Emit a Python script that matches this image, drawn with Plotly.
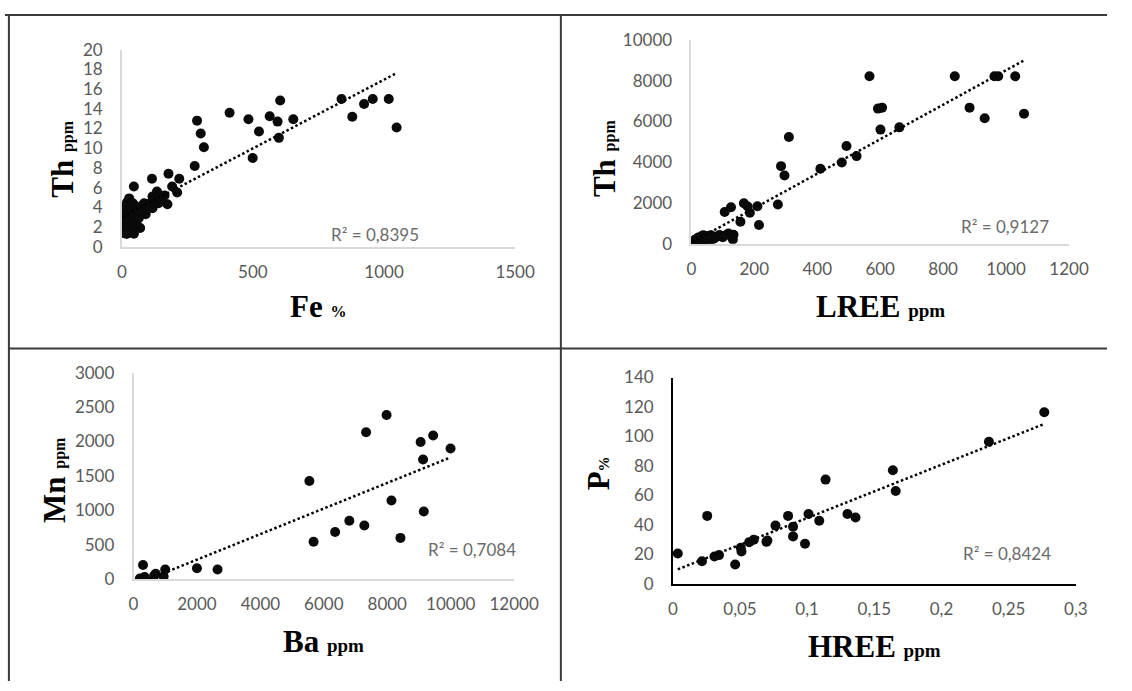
import numpy as np
import plotly.graph_objects as go

W, H = 1132, 691

# ---- Fe (%) vs Th (ppm) ----
fe = [1018, 1048, 957, 924, 879, 838, 604, 654, 594, 599, 564, 523, 483, 499, 411,
      287, 301, 313, 278, 219, 178, 192, 211, 174, 163, 134, 115, 117, 117, 144,
      91, 85, 46, 110, 125, 140, 150, 95, 105,
      3, 5, 6, 8, 9, 10, 12, 13, 15, 16, 18, 19, 20, 22, 24, 25, 27, 28, 30, 32,
      34, 35, 38, 40, 42, 45, 48, 50, 53, 55, 58, 60, 65, 70, 75, 80, 20, 46]
th_fe = [15.0, 12.1, 15.0, 14.5, 13.2, 15.0, 14.85, 12.95, 12.7, 11.05, 13.25, 11.7, 12.95, 9.0, 13.6,
         12.8, 11.5, 10.1, 8.2, 6.9, 7.4, 6.1, 5.5, 4.3, 5.2, 5.6, 6.9, 5.1, 3.9, 4.6,
         3.3, 4.4, 6.1, 4.4, 4.8, 4.4, 4.9, 4.3, 4.1,
         1.4, 2.2, 3.0, 1.6, 2.6, 3.4, 2.0, 4.0, 2.8, 1.3, 3.6, 2.4, 4.5, 3.1, 1.9, 3.9, 2.7, 4.9, 3.3, 2.1,
         4.2, 1.5, 3.7, 2.9, 4.4, 1.4, 3.2, 2.5, 4.1, 3.5, 2.2, 3.8, 2.9, 1.9, 4.1, 3.5, 1.3, 1.3]

# ---- LREE (ppm) vs Th (ppm) ----
lree = [566, 837, 963, 975, 1029, 884, 932, 1057, 593, 606, 601, 661, 493, 525, 478, 410,
        310, 285, 296, 275, 210, 215, 167, 179, 186, 156, 106, 126, 112, 134, 132,
        3, 5, 8, 10, 12, 15, 18, 20, 22, 25, 28, 30, 32, 35, 38, 40, 45, 48, 50, 55,
        60, 65, 70, 75, 85, 90, 100, 118, 62]
th_lree = [8222, 8222, 8222, 8222, 8222, 6683, 6159, 6381, 6635, 6683, 5603, 5714, 4794, 4302, 3984, 3683,
           5238, 3810, 3349, 1921, 1841, 921, 1984, 1825, 1524, 1079, 1556, 1794, 444, 444, 206,
           50, 120, 30, 180, 80, 220, 60, 150, 300, 100, 250, 40, 350, 180, 420, 90, 380, 250, 150, 320,
           200, 280, 230, 300, 380, 430, 320, 500, 420]

# ---- Ba (ppm) vs Mn (ppm) ----
ba = [7978, 7332, 9447, 9052, 9995, 9129, 5545, 8132, 9151, 6805, 7277, 6356, 8416, 5677,
      300, 200, 350, 650, 700, 950, 1000, 2000, 2650]
mn = [2385, 2135, 2088, 1993, 1899, 1738, 1427, 1143, 983, 850, 779, 685, 600, 543,
      205, 10, 30, 50, 80, 40, 140, 160, 140]

# ---- HREE (ppm) vs P (%) ----
hree = [0.2765, 0.2353, 0.1638, 0.1659, 0.1137, 0.0256, 0.0037, 0.0217, 0.031, 0.0344, 0.0464,
        0.0506, 0.0511, 0.0569, 0.0603, 0.0697, 0.0704, 0.0764, 0.0858, 0.0895, 0.0895, 0.0984,
        0.101, 0.109, 0.13, 0.136]
p_pct = [116.5, 96.5, 77.1, 63.1, 70.8, 46.2, 20.7, 15.4, 18.7, 19.6, 13.2,
         24.6, 22.0, 28.4, 30.1, 28.6, 29.5, 39.6, 46.2, 38.9, 32.3, 27.3,
         47.5, 42.9, 47.5, 45.1]

r2_labels = ["R² = 0,8395", "R² = 0,9127", "R² = 0,7084", "R² = 0,8424"]
hree_ticks = [0, 0.05, 0.1, 0.15, 0.2, 0.25, 0.3]
hree_ticktext = ["0", "0,05", "0,1", "0,15", "0,2", "0,25", "0,3"]


def fx(px):
    return px / W


def fy(py):
    return 1 - py / H


def sub(main, small, size, gap=" "):
    return f"<b>{main}{gap}<span style='font-size:{size}px'>{small}</span></b>"


# plot-area pixel boxes: (left, right, bottom, top)
panels = [
    dict(x=fe, y=th_fe, box=(120, 524, 243, 40), xr=[0, 1500], yr=[0, 20], xd=500, yd=2,
         line="#d9d9d9", r2=(380, 230),
         xt=(sub("Fe", "%", 16), 322, 305), yt=(sub("Th", "ppm", 16), 59, 153)),
    dict(x=lree, y=th_lree, box=(705, 1093, 240, 30), xr=[0, 1200], yr=[0, 10000], xd=200, yd=2000,
         line="#d9d9d9", r2=(1027, 222),
         xt=(sub("LREE", "ppm", 19), 899, 305), yt=(sub("Th", "ppm", 16), 616, 152)),
    dict(x=ba, y=mn, box=(132, 523, 586, 373), xr=[0, 12000], yr=[0, 3000], xd=2000, yd=500,
         line="#d9d9d9", r2=(480, 555),
         xt=(sub("Ba", "ppm", 19), 327, 650), yt=(sub("Mn", "ppm", 16), 51, 484)),
    dict(x=hree, y=p_pct, box=(686, 1100, 591, 378), xr=[0, 0.3], yr=[0, 140], xd=None, yd=20,
         line="#000000", r2=(1029, 560),
         xt=(sub("HREE", "ppm", 19), 893, 655), yt=(sub("P", "%", 15, ""), 610, 477)),
]

fig = go.Figure()
tick_font = dict(family="Lato", size=17, color="#595959")
title_font = dict(family="Liberation Serif", size=31, color="#000000")
layout = {}
annotations = []

for i, pnl in enumerate(panels, start=1):
    xa = "x" if i == 1 else f"x{i}"
    ya = "y" if i == 1 else f"y{i}"
    l, r, b, t = pnl["box"]
    xs = np.array(pnl["x"], dtype=float)
    ys = np.array(pnl["y"], dtype=float)

    fig.add_trace(go.Scatter(x=xs, y=ys, mode="markers", xaxis=xa, yaxis=ya,
                             marker=dict(size=10, color="#0a0a0a", line=dict(width=0)),
                             showlegend=False, hoverinfo="skip"))
    # linear trend line over the data range
    slope, icpt = np.polyfit(xs, ys, 1)
    tx = np.array([xs.min(), xs.max()])
    fig.add_trace(go.Scatter(x=tx, y=slope * tx + icpt, mode="lines", xaxis=xa, yaxis=ya,
                             line=dict(color="#000000", width=2.5, dash="2.5px,2.5px"),
                             showlegend=False, hoverinfo="skip"))

    xkey = "xaxis" if i == 1 else f"xaxis{i}"
    ykey = "yaxis" if i == 1 else f"yaxis{i}"
    xaxis = dict(domain=[fx(l), fx(r)], range=pnl["xr"], anchor=ya, showgrid=False, zeroline=False,
                 showline=True, linecolor=pnl["line"], linewidth=1.5, ticks="",
                 tickfont=tick_font, ticklabelstandoff=9, fixedrange=True)
    if pnl["xd"] is None:
        xaxis.update(tickmode="array", tickvals=hree_ticks, ticktext=hree_ticktext)
    else:
        xaxis.update(tick0=0, dtick=pnl["xd"], tickformat="d")
    yaxis = dict(domain=[fy(b), fy(t)], range=pnl["yr"], anchor=xa, showgrid=False, zeroline=False,
                 showline=True, linecolor=pnl["line"], linewidth=1.5, ticks="",
                 tickfont=tick_font, ticklabelstandoff=14, tick0=0, dtick=pnl["yd"],
                 tickformat="d", fixedrange=True)
    layout[xkey] = xaxis
    layout[ykey] = yaxis

    rx, ry = pnl["r2"]
    annotations.append(dict(text=r2_labels[i - 1], x=fx(rx), y=fy(ry), xref="paper", yref="paper",
                            showarrow=False, xanchor="center", yanchor="middle",
                            font=dict(family="Lato", size=17, color="#6b6b6b")))
    txt, ax_, ay_ = pnl["xt"]
    annotations.append(dict(text=txt, x=fx(ax_), y=fy(ay_), xref="paper", yref="paper",
                            showarrow=False, xanchor="center", yanchor="middle", font=title_font))
    txt, ax_, ay_ = pnl["yt"]
    annotations.append(dict(text=txt, x=fx(ax_), y=fy(ay_), xref="paper", yref="paper",
                            showarrow=False, xanchor="center", yanchor="middle", textangle=-90,
                            font=title_font))

# table rules framing the four charts
border = dict(type="line", xref="paper", yref="paper", line=dict(color="#3a3a3a", width=2))
shapes = [
    dict(border, x0=0, x1=1, y0=fy(4), y1=fy(4)),
    dict(border, x0=fx(4), x1=fx(4), y0=0, y1=fy(4)),
    dict(border, x0=fx(571), x1=fx(571), y0=0, y1=fy(4)),
    dict(border, x0=fx(4), x1=1, y0=fy(348), y1=fy(348)),
]

fig.update_layout(width=W, height=H, margin=dict(l=0, r=0, t=0, b=0),
                  paper_bgcolor="white", plot_bgcolor="white",
                  annotations=annotations, shapes=shapes, **layout)

# place the figure flush with the page corner
fig.write_html("out.html", post_script="document.body.style.margin='0';")
